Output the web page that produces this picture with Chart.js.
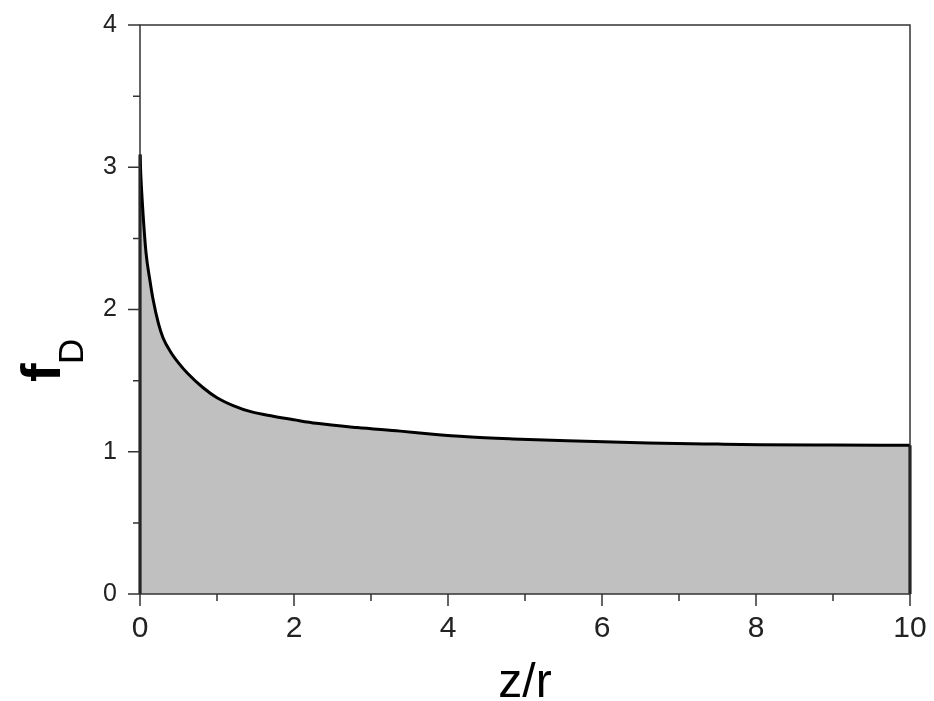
<!DOCTYPE html>
<html>
<head>
<meta charset="utf-8">
<script src="https://cdn.jsdelivr.net/npm/chart.js@4.4.1/dist/chart.umd.min.js"></script>
<style>
  html, body { margin: 0; padding: 0; background: #fff; }
  #wrap { width: 934px; height: 701px; position: relative; }
</style>
</head>
<body>
<div id="wrap"><canvas id="fd_chart"></canvas></div>
<script>
// z/r values and f_D
const zVals = [0, 0.01, 0.034, 0.078, 0.13, 0.17, 0.24, 0.3, 0.4, 0.5, 0.62, 0.82, 1.0, 1.21, 1.45, 1.73, 2.0, 2.29, 2.82, 3.38, 3.77, 4.25, 4.84, 5.55, 6.6, 7.5, 8.05, 9, 10];
const fVals = [3.09, 2.95, 2.72, 2.40, 2.2, 2.07, 1.90, 1.80, 1.70, 1.625, 1.55, 1.45, 1.38, 1.325, 1.28, 1.25, 1.225, 1.20, 1.17, 1.145, 1.125, 1.105, 1.09, 1.077, 1.062, 1.054, 1.05, 1.047, 1.045];
const xTicks = [0, 2, 4, 6, 8, 10];
const yTicks = [0, 1, 2, 3, 4];

const points = zVals.map((z, i) => ({ x: z, y: fVals[i] }));

// tick marks (major + minor), frame and axis titles
const decor = {
  id: "decor",
  afterDatasetsDraw(chart) {
    const ctx = chart.ctx;
    const { left, right, top, bottom } = chart.chartArea;
    const xs = chart.scales.x;
    const ys = chart.scales.y;
    ctx.save();

    // black edges of the filled area
    ctx.strokeStyle = "#000";
    ctx.lineWidth = 3;
    ctx.beginPath();
    ctx.moveTo(xs.getPixelForValue(zVals[0]), ys.getPixelForValue(0));
    ctx.lineTo(xs.getPixelForValue(zVals[0]), ys.getPixelForValue(fVals[0]));
    ctx.moveTo(xs.getPixelForValue(zVals[zVals.length - 1]), ys.getPixelForValue(0));
    ctx.lineTo(xs.getPixelForValue(zVals[zVals.length - 1]), ys.getPixelForValue(fVals[fVals.length - 1]));
    ctx.stroke();

    ctx.strokeStyle = "#333";
    ctx.lineWidth = 1.5;
    ctx.strokeRect(left, top, right - left, bottom - top);

    ctx.beginPath();
    for (let v = 0; v <= 10; v += 1) {
      const px = xs.getPixelForValue(v);
      const len = v % 2 === 0 ? 12 : 7;
      ctx.moveTo(px, bottom);
      ctx.lineTo(px, bottom + len);
    }
    for (let v = 0; v <= 4; v += 0.5) {
      const py = ys.getPixelForValue(v);
      const len = Number.isInteger(v) ? 12 : 7;
      ctx.moveTo(left, py);
      ctx.lineTo(left - len, py);
    }
    ctx.stroke();

    // axis titles
    ctx.fillStyle = "#000";
    ctx.textBaseline = "alphabetic";
    ctx.textAlign = "center";
    ctx.font = "48px Arial, 'Liberation Sans', sans-serif";
    ctx.fillText("z/r", (left + right) / 2, 697);

    ctx.textAlign = "left";
    ctx.save();
    ctx.translate(60, 382);
    ctx.rotate(-Math.PI / 2);
    ctx.font = "bold 56px Arial, 'Liberation Sans', sans-serif";
    ctx.fillText("f", 0, 0);
    ctx.restore();
    ctx.save();
    ctx.translate(83, 364);
    ctx.rotate(-Math.PI / 2);
    ctx.font = "35px Arial, 'Liberation Sans', sans-serif";
    ctx.fillText("D", 0, 0);
    ctx.restore();

    ctx.restore();
  },
};

const ctx = document.getElementById("fd_chart").getContext("2d");
new Chart(ctx, {
  type: "scatter",
  data: {
    datasets: [
      {
        data: points,
        showLine: true,
        fill: "origin",
        backgroundColor: "#c0c0c0",
        borderColor: "#000",
        borderWidth: 3,
        pointRadius: 0,
        cubicInterpolationMode: "monotone",
      },
    ],
  },
  options: {
    responsive: true,
    maintainAspectRatio: false,
    animation: false,
    layout: { padding: { top: 25, right: 24, left: 0, bottom: 0 } },
    plugins: { legend: { display: false }, tooltip: { enabled: false } },
    scales: {
      x: {
        type: "linear",
        min: 0,
        max: 10,
        grid: { display: false, drawTicks: false },
        border: { display: false },
        afterBuildTicks: (scale) => {
          scale.ticks = xTicks.map((v) => ({ value: v }));
        },
        ticks: {
          autoSkip: false,
          maxRotation: 0,
          padding: 17,
          color: "#222",
          font: { family: "Arial, 'Liberation Sans', sans-serif", size: 30 },
        },
        afterFit: (scale) => {
          scale.height = 107;
          scale.paddingLeft = 0;
          scale.paddingRight = 0;
        },
      },
      y: {
        type: "linear",
        min: 0,
        max: 4,
        grid: { display: false, drawTicks: false },
        border: { display: false },
        afterBuildTicks: (scale) => {
          scale.ticks = yTicks.map((v) => ({ value: v }));
        },
        ticks: {
          padding: 23,
          color: "#222",
          font: { family: "Arial, 'Liberation Sans', sans-serif", size: 25 },
        },
        afterFit: (scale) => {
          scale.width = 140;
          scale.paddingTop = 0;
          scale.paddingBottom = 0;
        },
      },
    },
  },
  plugins: [decor],
});
</script>
</body>
</html>
